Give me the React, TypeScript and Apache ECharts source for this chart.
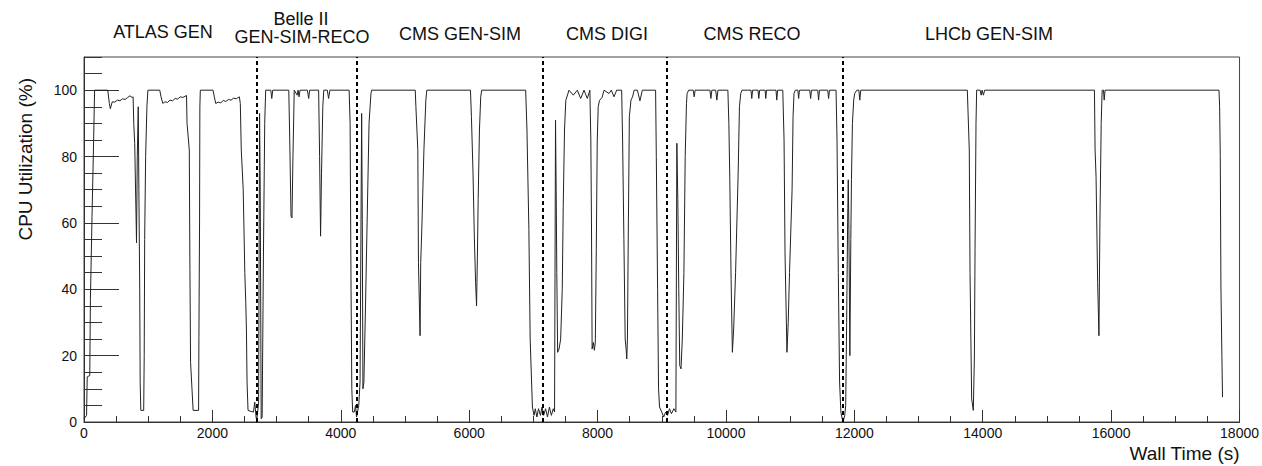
import React, { useEffect, useRef } from "react";
import * as echarts from "echarts";

// [wall time (s), CPU utilization (%)]
const atlasGen: [number, number][] = [
  [0, 1], [40, 2], [50, 13.6], [90, 14], [100, 37], [125, 62], [150, 85], [165, 100],
  [370, 100], [395, 96], [410, 94.4], [440, 96.5], [480, 96.4], [520, 97], [560, 96.8], [600, 97.4],
  [640, 97.2], [680, 97.8], [715, 98.3], [750, 97.8], [765, 98],
  [775, 90], [790, 84], [810, 63], [818, 54], [830, 80], [845, 95], [855, 70], [868, 40], [875, 12],
  [885, 3.5], [930, 3.5], [938, 20], [945, 55], [960, 80], [980, 95], [995, 100],
  [1180, 100], [1200, 98], [1228, 96], [1260, 96.5], [1300, 96.3], [1340, 97], [1380, 96.8],
  [1420, 97.5], [1460, 97.3], [1500, 98], [1540, 97.8], [1597, 98.4],
  [1605, 90], [1640, 82], [1650, 46], [1660, 18], [1700, 3.5], [1785, 3.5], [1790, 25.5],
  [1800, 60], [1805, 95], [1812, 100],
  [2010, 100], [2030, 98], [2052, 96], [2090, 96.4], [2130, 96.2], [2170, 96.9], [2210, 96.6],
  [2250, 97.2], [2290, 97], [2330, 97.6], [2370, 97.4], [2420, 98],
  [2435, 96], [2450, 82], [2480, 70], [2505, 45], [2520, 36], [2530, 28], [2540, 12], [2555, 3.5],
  [2600, 3.2], [2640, 3], [2660, 6], [2680, 1.5],
];

const belleII: [number, number][] = [
  [2690, 0.5], [2705, 3], [2720, 6], [2735, 93], [2745, 70], [2760, 1], [2775, 1.5], [2795, 50],
  [2815, 90], [2830, 100],
  [2910, 100], [2925, 97.5], [2940, 100], [3190, 100], [3205, 85], [3225, 62], [3240, 61.5],
  [3255, 80], [3275, 100], [3320, 98.5], [3335, 100], [3350, 98], [3365, 100], [3480, 100],
  [3500, 97.5], [3515, 100], [3655, 100], [3670, 80], [3685, 56], [3700, 75], [3720, 95],
  [3735, 100], [3790, 100], [3810, 97.5], [3830, 100], [4130, 100],
  [4145, 90], [4160, 40], [4172, 10], [4185, 3], [4210, 3], [4230, 5], [4245, 1.5],
];

const cmsGenSim: [number, number][] = [
  [4260, 3], [4280, 5], [4300, 12], [4315, 60], [4325, 93], [4335, 61], [4345, 10], [4360, 12],
  [4385, 35], [4410, 60], [4440, 90], [4470, 99], [4480, 100],
  [5160, 100], [5170, 95], [5200, 82], [5210, 48], [5235, 26], [5245, 48], [5265, 60], [5295, 82],
  [5325, 97], [5340, 100],
  [6020, 100], [6035, 92], [6060, 75], [6080, 56], [6100, 42], [6115, 35], [6128, 50], [6140, 67],
  [6160, 88], [6180, 98], [6195, 100],
  [6880, 100], [6900, 88], [6930, 58], [6950, 25], [6985, 4.5], [7010, 2], [7030, 4], [7055, 1.5],
  [7080, 4], [7110, 2], [7135, 4.5],
];

const cmsDigi: [number, number][] = [
  [7160, 2], [7190, 4], [7220, 1.5], [7250, 4.5], [7280, 2], [7310, 4], [7330, 3], [7345, 91],
  [7355, 70], [7365, 45], [7378, 21], [7400, 22], [7425, 25], [7450, 40], [7465, 65], [7485, 88],
  [7505, 96.9], [7555, 100], [7622, 98.5], [7685, 100], [7737, 97.5], [7789, 100], [7840, 97.5],
  [7880, 100],
  [7895, 85], [7905, 60], [7915, 22], [7935, 24], [7950, 21.6], [7965, 24], [7980, 52], [7995, 85],
  [8010, 95], [8030, 96.9], [8070, 97.8], [8101, 100], [8178, 99], [8214, 100], [8256, 98],
  [8297, 100], [8375, 100],
  [8390, 85], [8410, 55], [8430, 25], [8445, 22], [8455, 19], [8465, 25], [8480, 60], [8495, 92],
  [8520, 97], [8545, 98], [8570, 100], [8620, 100], [8660, 96.8], [8697, 100], [8904, 100],
  [8915, 80], [8935, 40], [8950, 10], [8965, 4.5], [9000, 3], [9030, 1.5], [9060, 3],
];

const cmsReco: [number, number][] = [
  [9090, 2], [9120, 4], [9150, 2.5], [9190, 4], [9220, 3], [9235, 84], [9250, 67], [9265, 40],
  [9280, 17], [9300, 16], [9320, 25], [9345, 45], [9365, 80], [9385, 96], [9395, 99], [9420, 100],
  [9490, 100], [9505, 98], [9520, 100], [9750, 100], [9765, 97.5], [9780, 100], [9840, 100],
  [9858, 97], [9875, 100], [10030, 100],
  [10045, 90], [10060, 73], [10080, 43], [10100, 21], [10120, 28], [10150, 45], [10190, 75],
  [10210, 95], [10230, 99], [10250, 100], [10390, 100], [10402, 97.5], [10415, 100], [10500, 100],
  [10511, 97.5], [10525, 100], [10610, 100], [10620, 97.5], [10632, 100], [10780, 100],
  [10791, 97], [10805, 100], [10885, 100],
  [10905, 85], [10920, 51], [10950, 21], [10970, 30], [10990, 45], [11030, 70], [11045, 92],
  [11060, 99], [11080, 100], [11120, 100], [11132, 97.5], [11145, 100], [11305, 100],
  [11319, 97.5], [11332, 100], [11430, 100], [11443, 97], [11456, 100], [11585, 100],
  [11599, 97.5], [11612, 100], [11715, 100],
  [11730, 85], [11750, 45], [11770, 12], [11790, 3], [11810, 1],
];

const lhcbGenSim: [number, number][] = [
  [11830, 0.5], [11850, 2], [11865, 5], [11880, 30], [11895, 60], [11905, 73], [11915, 58],
  [11930, 20], [11945, 55], [11955, 73], [11970, 90], [11990, 97], [12005, 99], [12040, 100],
  [12070, 100], [12085, 97], [12100, 100], [13760, 100],
  [13790, 82], [13802, 45], [13827, 7], [13853, 3.5], [13870, 19.6], [13880, 52], [13895, 90],
  [13905, 100], [13960, 100], [13975, 98.5], [13990, 100], [14010, 98.5], [14030, 100], [15740, 100],
  [15750, 82], [15765, 74], [15790, 42], [15810, 26], [15825, 60], [15845, 90], [15860, 100],
  [15880, 100], [15892, 97], [15905, 100], [17680, 100],
  [17690, 95], [17700, 80], [17710, 41], [17725, 20], [17735, 7.5],
];

const boundaries = [2690, 4245, 7150, 9075, 11820];

const sectionLabels = [
  "ATLAS GEN",
  "Belle II",
  "GEN-SIM-RECO",
  "CMS GEN-SIM",
  "CMS DIGI",
  "CMS RECO",
  "LHCb GEN-SIM",
];

const labelPos: [number, number][] = [
  [163, 32], [301, 19], [302, 37], [460, 34], [607, 34], [752, 34], [989, 34],
];

const FONT = "'Liberation Sans', Arial, Helvetica, sans-serif";
const AX = "#333";

export default function App() {
  const ref = useRef<HTMLDivElement>(null);

  useEffect(() => {
    const chart = echarts.init(ref.current!, null, { renderer: "svg" });
    const data = [...atlasGen, ...belleII, ...cmsGenSim, ...cmsDigi, ...cmsReco, ...lhcbGenSim];

    chart.setOption({
      animation: false,
      backgroundColor: "#fff",
      textStyle: { fontFamily: FONT },
      grid: {
        left: 84, right: 20, top: 57, bottom: 44,
        show: true, borderColor: "#444", borderWidth: 1, backgroundColor: "transparent",
      },
      xAxis: [
        {
          type: "value", min: 0, max: 18000, interval: 2000, position: "bottom",
          axisLine: { show: true, lineStyle: { color: AX, width: 1 } },
          axisTick: { show: true, inside: true, length: 12, lineStyle: { color: AX } },
          minorTick: { show: true, splitNumber: 4, length: 6, lineStyle: { color: AX } },
          splitLine: { show: false },
          minorSplitLine: { show: false },
          axisLabel: {
            fontSize: 14, color: "#111", margin: 4, fontFamily: FONT,
            formatter: (v: number) => String(v),
          },
          name: "Wall Time (s)",
          nameLocation: "end",
          nameGap: 0,
          nameTextStyle: {
            fontSize: 19, color: "#111", align: "right", verticalAlign: "top",
            padding: [22, 0, 0, 0], fontFamily: FONT,
          },
        },
      ],
      yAxis: [
        {
          type: "value", min: 0, max: 110, interval: 20, position: "left",
          axisLine: { show: true, lineStyle: { color: AX, width: 1 } },
          axisTick: { show: true, inside: true, length: 35, lineStyle: { color: AX } },
          splitLine: { show: false },
          axisLabel: {
            fontSize: 14, color: "#111", margin: 7, showMaxLabel: false, fontFamily: FONT,
            formatter: (v: number) => String(v),
          },
        },
        {
          type: "value", min: 0, max: 110, interval: 5, position: "left",
          axisLine: { show: false },
          axisTick: { show: true, inside: true, length: 18, lineStyle: { color: AX } },
          splitLine: { show: false },
          axisLabel: { show: false },
        },
      ],
      graphic: [
        {
          type: "text", x: 25, y: 78, rotation: Math.PI / 2,
          style: {
            text: "CPU Utilization (%)", fontSize: 19, fill: "#111", fontFamily: FONT,
            align: "right", verticalAlign: "middle",
          },
        },
        ...sectionLabels.map((t, i) => ({
          type: "text", x: labelPos[i][0], y: labelPos[i][1],
          style: {
            text: t, fontSize: 18, fill: "#111", fontFamily: FONT,
            align: "center", verticalAlign: "middle",
          },
        })),
      ],
      series: [
        {
          type: "line",
          data,
          xAxisIndex: 0,
          yAxisIndex: 0,
          showSymbol: false,
          symbol: "none",
          lineStyle: { color: "#222", width: 1 },
          markLine: {
            silent: true,
            symbol: ["none", "none"],
            label: { show: false },
            lineStyle: { color: "#000", width: 2, type: [4, 3] },
            data: boundaries.map((b) => ({ xAxis: b })),
          },
        },
      ],
    });

    return () => chart.dispose();
  }, []);

  return (
    <div
      ref={ref}
      style={{ position: "fixed", left: 0, top: 0, width: 1262, height: 466, background: "#fff" }}
    />
  );
}
